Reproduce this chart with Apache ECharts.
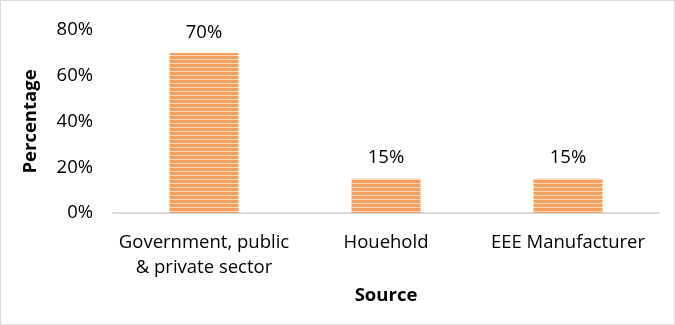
<!DOCTYPE html>
<html><head><meta charset="utf-8">
<script src="https://cdn.jsdelivr.net/npm/echarts@6/dist/echarts.min.js"></script>
<style>html,body{margin:0;padding:0;background:#fff}#c{width:675px;height:325px}</style>
</head><body><div id="c"></div>
<script>
const categories = ['Government, public\n& private sector', 'Houehold', 'EEE Manufacturer'];
const values = [70, 15, 15];
const yTicks = [0, 20, 40, 60, 80];

const pc = document.createElement('canvas');
pc.width = 4; pc.height = 4;
const ctx = pc.getContext('2d');
ctx.fillStyle = '#F59F5E'; ctx.fillRect(0, 0, 4, 4);
ctx.fillStyle = '#FCD7B9'; ctx.fillRect(0, 3, 4, 1);

const chart = echarts.init(document.getElementById('c'), null, {renderer: 'canvas'});
const font = 'Open Sans';
const fs = 18.5;
chart.setOption({
  animation: false,
  graphic: [{type: 'rect', shape: {x: 0.5, y: 0.5, width: 674, height: 324}, style: {fill: 'none', stroke: '#d9d9d9', lineWidth: 1}}],
  grid: {left: 113, right: 16, top: 30, bottom: 112},
  xAxis: {
    type: 'category', data: categories,
    axisLine: {lineStyle: {color: '#d9d9d9', width: 2}},
    axisTick: {show: false},
    axisLabel: {color: '#000', fontSize: fs, fontFamily: font, margin: 17, lineHeight: 25, interval: 0},
    name: 'Source', nameLocation: 'middle', nameGap: 73,
    nameTextStyle: {color: '#000', fontSize: fs, fontWeight: 'bold', fontFamily: font}
  },
  yAxis: {
    type: 'value', min: yTicks[0], max: yTicks[yTicks.length - 1], interval: 20,
    axisLine: {show: false}, axisTick: {show: false}, splitLine: {show: false},
    axisLabel: {color: '#000', fontSize: fs, fontFamily: font, margin: 20, formatter: v => v + '%'},
    name: 'Percentage', nameLocation: 'middle', nameGap: 73, nameRotate: 90,
    nameTextStyle: {color: '#000', fontSize: fs, fontWeight: 'bold', fontFamily: font}
  },
  series: [{
    type: 'bar', data: values, barWidth: 69,
    itemStyle: {color: {image: pc, repeat: 'repeat'}},
    label: {show: true, position: 'top', distance: 11, color: '#000', fontSize: fs, fontFamily: font, formatter: p => p.value + '%'}
  }]
});
</script></body></html>
